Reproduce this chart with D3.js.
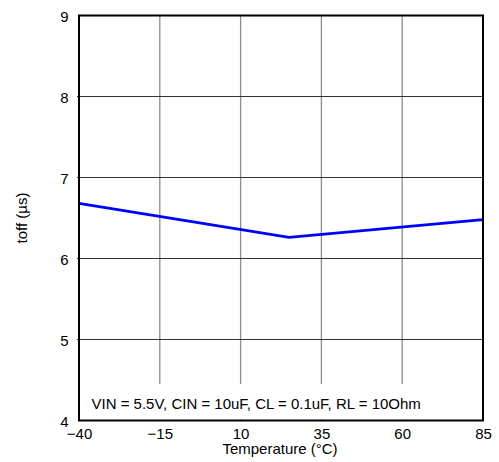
<!DOCTYPE html>
<html><head><meta charset="utf-8">
<script src="https://cdn.jsdelivr.net/npm/d3@7"></script>
<style>body{margin:0;background:#fff}svg{display:block}text{font-family:Arial,"Liberation Sans",sans-serif;fill:#000}</style>
</head><body>
<script>
const temps = [-40, 25, 85];
const toff = [6.68, 6.26, 6.48];
const xTicks = [-40, -15, 10, 35, 60, 85];
const yTicks = [4, 5, 6, 7, 8, 9];
const xTitle = "Temperature (°C)";
const yTitle = "toff (µs)";
const note = "VIN = 5.5V, CIN = 10uF, CL = 0.1uF, RL = 10Ohm";

const FS = 15;
const W = 499, H = 462;
const m = {l: 79, t: 15.5, r: 16, b: 41.5};
const iw = W - m.l - m.r, ih = H - m.t - m.b;
const svg = d3.select("body").append("svg").attr("width", W).attr("height", H);
const g = svg.append("g").attr("transform", `translate(${m.l},${m.t})`);
const x = d3.scaleLinear().domain([-40, 85]).range([0, iw]);
const y = d3.scaleLinear().domain([4, 9]).range([ih, 0]);

// vertical grid
g.append("g").selectAll("line").data(xTicks.slice(1, -1)).join("line")
  .attr("x1", d => x(d)).attr("x2", d => x(d)).attr("y1", 0).attr("y2", ih)
  .attr("stroke", "#8c8c8c").attr("stroke-width", 1.3);
// horizontal grid
g.append("g").selectAll("line").data(yTicks.slice(1, -1)).join("line")
  .attr("x1", -2).attr("x2", iw).attr("y1", d => y(d)).attr("y2", d => y(d))
  .attr("stroke", "#333").attr("stroke-width", 1);

// note background
g.append("rect").attr("x", 1).attr("y", ih - 36.5).attr("width", iw - 2).attr("height", 35.5).attr("fill", "#fff");
g.append("text").attr("x", 12.5).attr("y", ih - 11.5).attr("font-size", FS).text(note);

// line
const line = d3.line().x(d => x(d[0])).y(d => y(d[1]));
g.append("path").datum(temps.map((t, i) => [t, toff[i]])).attr("d", line)
  .attr("fill", "none").attr("stroke", "#0000ff").attr("stroke-width", 2.8);

// frame
g.append("rect").attr("x", 0).attr("y", 0).attr("width", iw).attr("height", ih)
  .attr("fill", "none").attr("stroke", "#000").attr("stroke-width", 2);

// axes labels
const xa = d3.axisBottom(x).tickValues(xTicks).tickSize(0).tickPadding(7.5);
const gx = g.append("g").attr("transform", `translate(0,${ih})`).call(xa);
gx.select(".domain").remove();
gx.selectAll("text").attr("font-size", FS).attr("fill", "#000").attr("font-family", "Arial,'Liberation Sans',sans-serif");
const ya = d3.axisLeft(y).tickValues(yTicks).tickFormat(d3.format("d")).tickSize(0).tickPadding(10.5);
const gy = g.append("g").call(ya);
gy.select(".domain").remove();
gy.selectAll("text").attr("font-size", FS).attr("fill", "#000").attr("dy", "0.42em").attr("font-family", "Arial,'Liberation Sans',sans-serif");

svg.append("text").attr("x", m.l + iw / 2 - 1).attr("y", 454).attr("text-anchor", "middle").attr("font-size", FS).text(xTitle);
svg.append("text").attr("transform", `translate(27,${m.t + ih / 2}) rotate(-90)`).attr("text-anchor", "middle").attr("font-size", FS).text(yTitle);
</script>
</body></html>
